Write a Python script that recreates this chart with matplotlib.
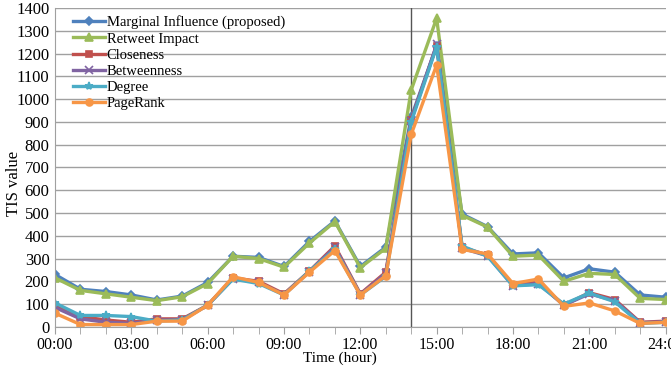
import matplotlib.pyplot as plt
import numpy as np

plt.rcParams['font.family'] = ['Liberation Serif', 'DejaVu Serif']

hours = np.arange(25)
tick_hours = np.arange(0, 25, 3)
tick_labels = ['%02d:00' % h for h in tick_hours]

marginal = [230, 165, 155, 140, 118, 135, 195, 310, 305, 265, 375, 465, 265, 350,
            920, 1235, 495, 440, 320, 325, 215, 255, 240, 140, 130]
retweet = [215, 160, 145, 130, 115, 132, 190, 310, 300, 262, 368, 462, 260, 345,
           1040, 1355, 490, 438, 310, 315, 200, 235, 230, 125, 120]
closeness = [95, 45, 30, 20, 35, 35, 95, 215, 200, 145, 245, 355, 145, 240,
             910, 1235, 350, 315, 185, 195, 95, 150, 120, 20, 25]
betweenness = [85, 35, 20, 15, 30, 30, 95, 212, 195, 142, 243, 350, 142, 235,
               905, 1240, 345, 312, 180, 190, 95, 145, 115, 18, 22]
degree = [105, 50, 50, 45, 25, 30, 95, 210, 190, 140, 245, 340, 140, 222,
          900, 1230, 355, 310, 180, 185, 100, 148, 110, 15, 20]
pagerank = [60, 10, 10, 10, 25, 25, 95, 220, 195, 140, 240, 335, 140, 225,
            845, 1150, 340, 320, 190, 210, 90, 105, 70, 15, 20]

series = [
    ('Marginal Influence (proposed)', marginal, '#4F81BD', 'D', 4),
    ('Retweet Impact', retweet, '#9BBB59', '^', 6),
    ('Closeness', closeness, '#C0504D', 's', 5),
    ('Betweenness', betweenness, '#8064A2', 'x', 6),
    ('Degree', degree, '#4BACC6', '*', 6),
    ('PageRank', pagerank, '#F79646', 'o', 5),
]

fig, ax = plt.subplots(figsize=(6.71, 3.66), dpi=100)
fig.subplots_adjust(left=0.082, right=0.992, top=0.978, bottom=0.107)

for name, vals, color, marker, ms in series:
    ax.plot(hours, vals, color=color, marker=marker, markersize=ms,
            linewidth=2.4, label=name, markeredgewidth=1.2)

# separator at 14:00
ax.axvline(14, color='#555555', linewidth=1.0, zorder=1)

ax.set_xlim(0, 24)
ax.set_ylim(0, 1400)
ax.set_yticks(np.arange(0, 1401, 100))
ax.set_xticks(tick_hours)
ax.set_xticklabels(tick_labels)
ax.set_xticks(hours, minor=True)
ax.yaxis.grid(True, color='#a0a0a0', linewidth=1.0)
ax.set_axisbelow(True)
ax.tick_params(axis='y', length=0, labelsize=12, pad=4)
ax.tick_params(axis='x', which='both', length=5, color='#a0a0a0',
               labelsize=11.5, pad=2)

for side in ('top', 'right'):
    ax.spines[side].set_visible(False)
ax.spines['left'].set_color('#a0a0a0')
ax.spines['bottom'].set_color('#a0a0a0')

# axis titles placed by hand so they sit tight against the tick labels
fig.text(0.506, 0.022, 'Time (hour)', fontsize=11, ha='center', va='center')
fig.text(0.021, 0.50, 'TIS value', fontsize=12, rotation=90,
         ha='center', va='center')

ax.legend(loc='upper left', bbox_to_anchor=(0.02, 0.995), frameon=False,
          fontsize=10.5, handlelength=2.2, handletextpad=0.1,
          labelspacing=0.2, borderaxespad=0)

fig.savefig('out.png', dpi=100)
